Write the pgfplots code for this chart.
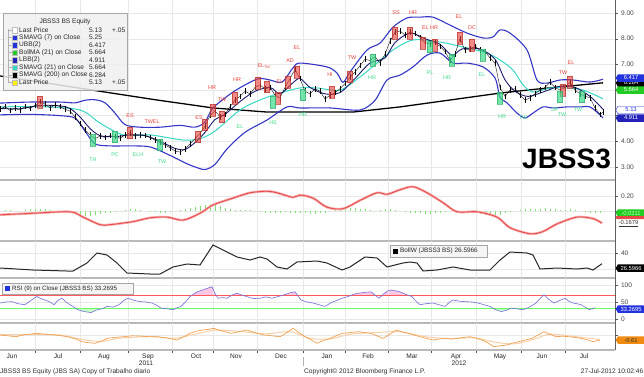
\documentclass[border=0pt]{standalone}
\usepackage{fontspec}
\setmainfont{Liberation Sans}
\usepackage{pgfplots}
\usepackage{pgfplotstable}
\pgfplotsset{compat=1.18}
\usetikzlibrary{shapes.symbols}

\definecolor{bbblue}{HTML}{3535C8}
\definecolor{bbcyan}{HTML}{36D8C4}
\definecolor{bbnavy}{HTML}{1C1C70}
\definecolor{bbred}{HTML}{E8403A}
\definecolor{bbgreen}{HTML}{3FD98A}
\definecolor{tagblue}{HTML}{2233DD}
\definecolor{tagnavy}{HTML}{2222B8}
\definecolor{taggreen}{HTML}{22CC22}
\definecolor{macdred}{HTML}{E84848}
\definecolor{macdpink}{HTML}{F6A8A8}
\definecolor{histgreen}{HTML}{7EE070}
\definecolor{rsiblue}{HTML}{6F6FDA}
\definecolor{orangeA}{HTML}{F0A050}
\definecolor{orangeB}{HTML}{F8D0A8}
\definecolor{tagorange}{HTML}{F08A10}

\pgfplotstableread{
x y
0 5.25
5 5.35
10 5.20
15 5.30
20 5.22
25 5.35
30 5.28
35 5.40
40 5.55
45 5.45
50 5.30
55 5.42
60 5.35
65 5.25
70 5.18
75 4.95
80 4.70
85 4.45
90 4.25
95 4.10
100 4.20
105 4.15
110 4.22
115 4.18
120 4.12
125 4.25
130 4.33
135 4.20
140 4.25
145 4.22
150 4.15
155 4.05
160 3.95
165 3.85
170 3.75
175 3.62
180 3.58
185 3.70
190 3.90
195 4.10
200 4.30
205 4.60
210 5.00
215 5.20
220 4.95
225 5.05
230 5.35
235 5.60
240 5.75
245 5.95
250 5.85
255 6.10
260 6.20
265 6.05
270 6.10
275 5.80
280 5.69
285 6.10
290 6.45
295 6.80
300 6.45
305 5.95
310 5.85
315 6.05
320 5.95
325 5.65
330 5.80
335 5.90
340 6.05
345 6.25
350 6.50
355 6.70
360 6.95
365 7.20
370 7.15
375 7.30
380 7.05
385 7.40
390 7.90
395 8.25
400 8.30
405 8.15
410 8.25
415 8.20
420 8.05
425 7.85
430 7.80
435 7.85
440 7.70
445 7.50
450 7.15
455 7.40
460 8.00
465 7.55
470 7.60
475 7.70
480 7.55
485 7.50
490 7.25
495 7.05
500 6.10
505 5.75
510 6.00
515 6.05
520 5.80
525 5.60
530 5.70
535 5.85
540 6.00
545 6.10
550 6.30
555 6.10
560 6.00
565 6.10
570 6.30
575 6.00
580 5.85
585 5.75
590 5.70
595 5.30
600 5.05
603 5.13
}\closetab

\pgfplotstableread{
x y
0 5.49
30 5.53
60 5.53
75 5.50
85 5.60
95 5.62
105 5.50
115 5.10
125 4.65
140 4.55
160 4.55
180 4.62
195 4.55
205 4.75
213 5.30
233 5.92
250 6.30
260 6.45
270 6.39
282 6.31
293 6.86
300 7.05
327 6.90
337 6.66
343 6.30
350 6.70
367 7.56
380 7.83
393 8.45
407 8.81
420 8.84
433 8.84
450 8.53
467 8.22
483 8.03
493 8.07
500 8.34
510 8.22
527 7.56
537 6.39
547 6.27
560 6.39
573 6.39
590 6.31
603 6.42
}\uppertab

\pgfplotstableread{
x y
0 5.03
30 5.05
60 5.00
75 4.90
85 4.40
95 3.90
110 3.82
130 3.82
150 3.78
170 3.45
185 3.16
195 3.00
205 2.90
215 3.10
227 3.70
245 4.35
267 4.83
287 5.34
300 5.30
330 5.30
360 5.22
375 5.60
387 6.39
400 6.58
413 6.90
427 7.36
440 7.44
453 7.05
467 7.05
483 6.90
495 6.47
500 5.73
507 5.50
517 5.10
525 4.91
533 5.10
543 5.34
553 5.30
567 5.34
580 5.34
590 5.34
600 5.03
603 4.91
}\lowertab

\pgfplotstableread{
x y
0 5.34
40 5.35
80 5.22
100 4.71
123 4.25
150 4.25
183 4.05
200 4.10
215 4.40
240 5.22
260 5.61
280 5.88
300 6.08
317 6.08
340 6.00
360 6.51
377 7.05
393 7.56
413 7.95
440 7.87
467 7.64
487 7.44
500 7.17
513 6.78
523 6.20
533 5.92
550 6.08
567 6.08
583 6.00
603 5.66
}\matab

\pgfplotstableread{
x y
0 6.55
50 6.25
100 5.95
157 5.61
213 5.30
267 5.14
353 5.14
400 5.34
500 5.88
533 6.02
603 6.28
}\longtab

\pgfplotstableread{
x y
0 5.28
20 5.27
40 5.40
60 5.38
70 5.28
80 4.95
90 4.50
100 4.22
115 4.18
130 4.25
145 4.22
160 4.00
175 3.72
185 3.68
195 3.95
205 4.35
215 4.85
225 5.05
240 5.55
255 5.95
270 6.10
280 5.85
292 6.25
300 6.45
310 6.10
325 5.85
340 5.90
355 6.45
370 7.05
385 7.25
395 7.85
410 8.22
425 8.00
440 7.78
452 7.35
462 7.60
480 7.60
495 7.20
505 6.40
515 5.95
528 5.75
545 5.95
560 6.15
575 6.10
590 5.75
603 5.25
}\smaseven

\pgfplotstableread{
x y
0 -0.05
33 -0.03
70 -0.01
83 -0.08
100 -0.18
110 -0.18
133 -0.14
150 -0.09
167 -0.08
183 -0.12
200 -0.03
213 0.08
233 0.17
250 0.24
267 0.26
277 0.24
293 0.18
300 0.21
313 0.17
327 0.05
343 0.03
360 0.14
377 0.24
387 0.22
400 0.28
413 0.32
427 0.24
443 0.11
457 -0.01
477 -0.01
497 -0.08
510 -0.22
530 -0.30
543 -0.27
557 -0.17
577 -0.08
593 -0.10
602 -0.16
}\macdtab

\pgfplotstableread{
x y
0 0.00
5 0.01
10 0.01
15 0.00
20 0.00
25 0.01
30 0.02
35 0.02
40 0.03
45 0.02
50 0.01
55 0.00
60 -0.01
65 -0.01
70 -0.02
75 -0.04
80 -0.05
85 -0.06
90 -0.06
95 -0.05
100 -0.04
105 -0.03
110 -0.02
115 -0.01
120 0.00
125 0.01
130 0.02
135 0.02
140 0.01
145 0.00
150 -0.01
155 -0.01
160 -0.02
165 -0.02
170 -0.01
175 0.00
180 0.01
185 0.03
190 0.04
195 0.05
200 0.07
205 0.08
210 0.09
215 0.08
220 0.06
225 0.04
230 0.02
235 0.01
240 0.01
245 0.01
250 0.01
255 0.00
260 -0.01
265 -0.02
270 -0.03
275 -0.03
280 -0.02
285 -0.01
290 -0.02
295 -0.03
300 -0.03
305 -0.03
310 -0.04
315 -0.04
320 -0.03
325 -0.02
330 0.00
335 0.01
340 0.02
345 0.03
350 0.04
355 0.04
360 0.03
365 0.02
370 0.01
375 0.00
380 0.01
385 0.02
390 0.02
395 0.01
400 0.00
405 -0.01
410 -0.02
415 -0.03
420 -0.03
425 -0.04
430 -0.04
435 -0.03
440 -0.02
445 -0.01
450 0.00
455 0.00
460 -0.01
465 -0.01
470 -0.02
475 -0.03
480 -0.04
485 -0.05
490 -0.06
495 -0.06
500 -0.05
505 -0.03
510 -0.01
515 0.00
520 0.01
525 0.02
530 0.02
535 0.02
540 0.03
545 0.04
550 0.03
555 0.02
560 0.01
565 0.01
570 0.02
575 0.01
580 0.00
585 -0.01
590 -0.02
595 -0.02
600 -0.02
}\histtab

\pgfplotstableread{
x y
0 21.25
33 18.75
67 17.5
73 17.5
87 27.5
97 40
107 37.5
117 27.5
127 15
150 13.75
160 13.75
173 22.5
187 26.25
200 25
213 50
223 43.75
237 35
250 31.25
260 35
267 32.5
277 22.5
287 20
297 28.75
317 30
327 27.5
342 18.75
350 22.5
365 35
377 33.75
387 22.5
403 27.5
410 28.75
417 27.5
423 17.5
437 18.75
453 22.5
470 18.75
490 18.75
500 31.25
510 41.25
527 40
533 37.5
540 20
557 21.25
577 20
587 21.25
593 18.75
602 26.6
}\bollwtab

\pgfplotstableread{
x y
0 47
6 50
12 51
18 45
25 42
31 55
37 66
41 60
45 56
50 50
54 42
58 55
62 61
66 50
70 42
74 35
78 27
84 22
91 19
97 27
102 30
107 37
113 35
119 42
124 55
128 61
134 55
140 51
146 50
152 47
157 40
161 32
167 30
173 27
177 33
181 37
186 52
190 66
196 78
202 85
207 90
212 95
215 75
218 61
223 63
227 61
232 70
237 76
242 70
247 66
253 60
260 61
266 65
272 61
278 66
284 71
290 77
295 80
298 68
301 56
307 50
313 47
319 42
325 37
331 48
338 56
343 62
348 66
353 72
358 76
364 78
371 80
375 70
379 61
384 75
389 85
394 84
400 80
406 72
412 66
416 52
420 42
426 45
433 47
439 42
445 37
449 48
453 56
460 52
466 51
472 50
478 47
484 42
490 37
495 28
501 22
506 25
511 32
517 30
523 27
530 36
536 47
540 60
544 71
549 57
554 47
560 55
565 61
569 52
573 47
577 45
581 42
585 35
589 27
592 30
595 33
}\rsitab

\pgfplotstableread{
x y
0 0
8 -0.1
16 -0.21
25 0.05
37 0.21
45 0.1
54 0
62 -0.1
70 -0.29
76 -0.5
82 -0.83
88 -0.95
95 -1.04
101 -0.8
107 -0.42
115 -0.3
124 -0.21
132 -0.1
140 -0.125
148 -0.2
157 -0.21
163 -0.3
169 -0.42
177 -0.625
184 -0.2
190 0.21
196 0.45
202 0.625
208 0.7
214 0.83
222 0.5
231 0.21
239 0.4
247 0.625
255 0.3
264 0
272 -0.1
280 -0.21
287 0.3
293 0.83
299 0.3
305 -0.21
311 -0.6
317 -1.04
323 -0.7
330 -0.42
336 -0.1
342 0.21
350 0.3
358 0.42
365 0.3
371 0.21
377 -0.1
383 -0.42
390 0.1
396 0.625
402 0.4
408 0.21
414 0
420 -0.21
427 -0.45
433 -0.625
439 -0.5
445 -0.42
451 -0.5
457 -0.42
464 -0.3
470 -0.21
476 -0.4
482 -0.625
488 -1.0
494 -1.46
500 -1.35
507 -1.25
513 -1.0
519 -0.83
526 -0.6
532 -0.42
538 0
544 0.42
550 0.1
556 -0.21
563 -0.15
569 -0.21
575 -0.3
581 -0.42
587 -0.6
593 -0.83
600 -0.625
}\osctab

\pgfplotstableread{
x y
0 0.05
30 0.05
60 0.0
80 -0.5
100 -0.8
120 -0.4
150 -0.2
175 -0.4
195 0.1
215 0.6
240 0.45
265 0.15
290 0.4
310 -0.4
330 -0.5
350 0.1
375 0.3
400 0.4
425 -0.2
450 -0.45
475 -0.35
495 -0.9
515 -1.1
535 -0.5
550 0.1
575 -0.2
600 -0.55
}\oscsigtab

\newcommand\lgf{\fontsize{6.6}{6.8}\selectfont}
\newcommand\tgf{\fontsize{5.8}{6}\selectfont}
\newcommand\tkf{\fontsize{6.6}{6.8}\selectfont}
\newcommand\pat{\fontsize{5.4}{5.4}\selectfont}
\newcommand\ftf{\fontsize{6.6}{6.8}\selectfont}

\tikzset{
  rl/.style={font=\pat, text=bbred, inner sep=0pt},
  gl/.style={font=\pat, text=bbgreen, inner sep=0pt},
  tag/.style={shape=signal, signal to=west, signal pointer angle=120,
    anchor=west, inner xsep=1pt, inner ysep=0.6pt, minimum height=7.5pt, minimum width=28.5pt,
    font=\tgf, text=white, line width=0.4pt},
}

\begin{document}
\begin{tikzpicture}[x=1pt,y=1pt]
\useasboundingbox (0,0) rectangle (644,376);
\pgfplotsset{
  bb/.style={
    scale only axis, width=615pt, xmin=0, xmax=615, anchor=south west,
    axis x line*=bottom, axis y line*=right,
    x axis line style={-, draw=gray!55, line width=2.6pt},
    y axis line style={-, draw=gray!75!black, line width=0.5pt},
    xtick={-10,35,80,128,172,213,257,303,345,388,431,476,521,565},
    xticklabels={},
    major x tick style={draw=none},
    xmajorgrids, ymajorgrids,
    grid style={gray!18, line width=0.4pt},
    tick align=outside,
    ytick style={draw=gray!70!black, line width=0.4pt},
    major tick length=2.5pt,
    yticklabel style={font=\tkf, text=gray!55!black},
    /pgf/number format/assume math mode=true,
  },
  redbox/.style={only marks, mark=square*, mark size=2.6pt,
    mark options={fill=bbred, draw=bbred!80!black, fill opacity=0.6, draw opacity=0.7, yscale=2.2, line width=0.3pt}},
  grnbox/.style={only marks, mark=square*, mark size=2.6pt,
    mark options={fill=bbgreen, draw=bbgreen!80!black, fill opacity=0.7, draw opacity=0.7, yscale=2.2, line width=0.3pt}},
}

% ---------------- main price panel
\begin{axis}[bb, at={(0pt,196pt)}, height=180pt, ymin=2.49, ymax=9.51,
  ytick={3,4,5,6,7,8,9},
  yticklabels={3.00,4.00,,,7.00,8.00,9.00}]
\addplot[black, line width=1.3pt] table {\longtab};
\addplot[bbblue, line width=1.1pt, smooth] table {\uppertab};
\addplot[bbblue, line width=1.1pt, smooth] table {\lowertab};
\addplot[bbcyan, line width=1.0pt, smooth] table {\matab};
\addplot[redbox] coordinates {(40,5.53) (130,4.33) (198,4.17) (205,4.64) (213,5.22) (222,4.95) (235,5.69) (258,6.27) (267,6.12) (278,5.69) (288,6.31) (297,6.70) (332,5.92) (350,6.51) (395,8.22) (410,8.22) (423,7.83) (435,7.75) (460,8.03) (472,7.75) (563,6.0) (570,6.31)};
\addplot[grnbox] coordinates {(93,4.05) (115,4.17) (160,3.86) (273,5.53) (303,5.81) (373,7.17) (430,7.68) (452,7.17) (483,7.36) (500,5.69) (560,5.73) (582,5.73)};
\addplot[bbnavy, line width=0.9pt, smooth] table {\smaseven};
\addplot[black, line width=0.35pt, mark=none,
  error bars/.cd, y dir=both, y fixed=0.11, error mark=none,
  error bar style={line width=0.5pt, black}] table {\closetab};
% pattern labels
\node[rl] at (axis cs:130,4.99) {ES};
\node[rl] at (axis cs:152,4.75) {TWEL};
\node[rl] at (axis cs:199,4.91) {ES};
\node[rl] at (axis cs:212,6.08) {HR};
\node[rl] at (axis cs:222,5.61) {TW};
\node[rl] at (axis cs:237,6.39) {HR};
\node[rl] at (axis cs:264,6.93) {EL\textsubscript{TW}};
\node[rl] at (axis cs:280,6.31) {EL};
\node[rl] at (axis cs:290,7.13) {AD};
\node[rl] at (axis cs:297,7.64) {EL};
\node[rl] at (axis cs:330,6.58) {HI};
\node[rl] at (axis cs:352,7.25) {TW};
\node[rl] at (axis cs:396,9.0) {SS};
\node[rl] at (axis cs:413,9.0) {HR};
\node[rl] at (axis cs:430,8.45) {EL HR};
\node[rl] at (axis cs:459,8.88) {EL};
\node[rl] at (axis cs:472,8.45) {DC};
\node[rl] at (axis cs:563,6.66) {TW};
\node[rl] at (axis cs:571,7.05) {EL};
\node[gl] at (axis cs:93,3.27) {TH};
\node[gl] at (axis cs:115,3.47) {PC};
\node[gl] at (axis cs:138,3.47) {ELH};
\node[gl] at (axis cs:162,3.20) {TW};
\node[gl] at (axis cs:240,4.56) {EL};
\node[gl] at (axis cs:273,4.71) {HS};
\node[gl] at (axis cs:303,5.03) {HR};
\node[gl] at (axis cs:372,6.47) {HR};
\node[gl] at (axis cs:430,6.66) {PL};
\node[gl] at (axis cs:447,6.47) {HR};
\node[gl] at (axis cs:482,6.58) {EL};
\node[gl] at (axis cs:502,4.95) {HR};
\node[gl] at (axis cs:523,4.91) {TW};
\node[gl] at (axis cs:555,5.22) {DP};
\node[gl] at (axis cs:562,5.03) {TW};
\node[gl] at (axis cs:578,5.22) {TW};
\end{axis}

% ---------------- MACD panel
\begin{axis}[bb, at={(0pt,135pt)}, height=61pt, ymin=-0.395, ymax=0.408,
  ytick={0,0.2}, yticklabels={,0.20}]
\addplot[ycomb, histgreen, line width=0.9pt, mark=none] table {\histtab};
\addplot[macdpink, line width=2.4pt, smooth] table {\macdtab};
\addplot[macdred, line width=0.8pt, smooth] table {\macdtab};
\end{axis}

% ---------------- BollW panel
\begin{axis}[bb, at={(0pt,98pt)}, height=37pt, ymin=8.75, ymax=55,
  ytick={20,40}, yticklabels={,40}]
\addplot[black!85, line width=1.0pt] table {\bollwtab};
\end{axis}

% ---------------- RSI overbought / oversold shading (clipped by their own ranges)
\begin{axis}[scale only axis, hide axis, width=615pt, xmin=0, xmax=615,
  anchor=south west, at={(0pt,80.8pt)}, height=17.2pt, ymin=70, ymax=120.6]
\addplot[fill=magenta!22, draw=none] table {\rsitab} -- (axis cs:595,70) -- (axis cs:0,70) -- cycle;
\end{axis}
\begin{axis}[scale only axis, hide axis, width=615pt, xmin=0, xmax=615,
  anchor=south west, at={(0pt,53pt)}, height=14.21pt, ymin=-11.8, ymax=30]
\addplot[fill=green!22, draw=none] table {\rsitab} -- (axis cs:595,30) -- (axis cs:0,30) -- cycle;
\end{axis}

% ---------------- RSI panel
\begin{axis}[bb, at={(0pt,53pt)}, height=45pt, ymin=-11.8, ymax=120.6,
  ytick={0,50,100}]
\addplot[draw=red!65, line width=0.6pt] coordinates {(0,70) (615,70)};
\addplot[draw=green!60, line width=0.6pt] coordinates {(0,30) (615,30)};
\addplot[rsiblue, line width=0.6pt] table {\rsitab};
\end{axis}

% ---------------- bottom oscillator panel
\begin{axis}[bb, at={(0pt,26pt)}, height=27pt, ymin=-1.875, ymax=1.5,
  ytick={0}, yticklabels={},
  major x tick style={draw=gray!60!black, line width=0.4pt},
  extra x ticks={12,58,104,148,196,236,281,327,368,412,456,500,542,584},
  extra x tick labels={Jun,Jul,Aug,Sep,Oct,Nov,Dec,Jan,Feb,Mar,Apr,May,Jun,Jul},
  extra x tick style={grid=none, major tick length=0pt,
     xticklabel style={font=\ftf, text=gray!30!black, yshift=-0.3pt}}]
\addplot[orangeB, line width=1.0pt, smooth] table {\oscsigtab};
\addplot[orangeA, line width=0.7pt] table {\osctab};
\end{axis}

% ---------------- value tags on the right
\node[tag, fill=black] at (615.5,293) {6.284};
\node[tag, fill=tagblue] at (615.5,298) {6.417};
\node[tag, fill=taggreen] at (615.5,286) {5.664};
\node[tag, fill=white, draw=tagblue, text=tagblue] at (615.5,266) {5.13};
\node[tag, fill=tagnavy] at (615.5,258) {4.911};
\node[tag, fill=taggreen, text=green!30!white] at (615.5,163) {-0.0311};
\node[tag, fill=macdred, minimum height=3pt, inner ysep=0pt] at (615.5,158.5) {};
\node[anchor=west, font=\tgf, text=gray!40!black, inner sep=0.5pt] at (618,152.5) {\underline{-0.1679}};
\node[tag, fill=black] at (615.5,108) {26.5966};
\node[tag, fill=tagblue] at (615.5,67) {33.2695};
\node[tag, fill=tagorange, text=black!80] at (615.5,36) {-0.61};

% ---------------- big ticker
\node[anchor=base west, inner sep=0, font=\fontsize{28}{28}\selectfont\bfseries] at (522,208) {JBSS3};

% ---------------- main legend
\newcommand{\legrow}[5]{%
  \draw[gray!60,line width=0.3pt] (8,#1) -- (12,#1);
  \path[fill=#2, draw=gray!50, line width=0.2pt] (12,#1-2.6) rectangle (17.4,#1+2.6);
  \node[anchor=west,inner sep=0,font=\lgf,text=black!85] at (19,#1) {#3};
  \node[anchor=west,inner sep=0,font=\lgf,text=black!85] at (89,#1) {#4};
  \node[anchor=west,inner sep=0,font=\lgf,text=black!85] at (112,#1) {#5};
}
\path[draw=gray!70, fill=gray!12, fill opacity=0.85, line width=0.5pt] (3,363) rectangle (127,286);
\node[font=\lgf, text=black!85, inner sep=0] at (65,354.5) {JBSS3 BS Equity};
\draw[gray!60, line width=0.3pt] (8,347) -- (8,293.5);
\legrow{346}{white}{Last Price}{5.13}{+.05}
\legrow{338.5}{tagblue}{SMAVG (7) on Close}{5.25}{}
\legrow{331}{tagblue}{UBB(2)}{6.417}{}
\legrow{323.5}{taggreen}{BollMA (21) on Close}{5.664}{}
\legrow{316}{tagnavy}{LBB(2)}{4.911}{}
\legrow{308.5}{bbcyan}{SMAVG (21) on Close}{5.664}{}
\legrow{301}{black}{SMAVG (200) on Close}{6.284}{}
\legrow{293.5}{yellow}{Last Price}{5.13}{+.05}

% ---------------- BollW legend
\path[draw=gray!70, fill=gray!8, line width=0.5pt] (390,130.5) rectangle (487,119);
\fill[black] (393,122.3) rectangle (398,127.3);
\node[anchor=west, inner sep=0, font=\fontsize{6.4}{6.6}\selectfont, text=black!85] at (400,124.8) {BollW (JBSS3 BS) 26.5966};

% ---------------- RSI legend
\path[draw=gray!70, fill=gray!8, line width=0.5pt] (2,93) rectangle (133,82);
\fill[tagblue] (5,85) rectangle (10,90);
\node[anchor=west, inner sep=0, font=\fontsize{6.2}{6.4}\selectfont, text=black!85] at (12,87.5) {RSI (9) on Close (JBSS3 BS) 33.2695};

% ---------------- years and footer
\node[font=\ftf, text=gray!30!black] at (146,13) {2011};
\node[font=\ftf, text=gray!30!black] at (459,13) {2012};
\draw[gray!60, line width=0.4pt] (303,19) -- (303,10);
\node[anchor=west, inner sep=0, font=\ftf, text=gray!35!black] at (0,4.5) {JBSS3 BS Equity (JBS SA) Copy of Trabalho diario};
\node[anchor=west, inner sep=0, font=\ftf, text=gray!35!black] at (304,4.5) {Copyright© 2012 Bloomberg Finance L.P.};
\node[anchor=east, inner sep=0, font=\ftf, text=gray!35!black] at (643.5,4.5) {27-Jul-2012 10:02:46};
\end{tikzpicture}
\end{document}
